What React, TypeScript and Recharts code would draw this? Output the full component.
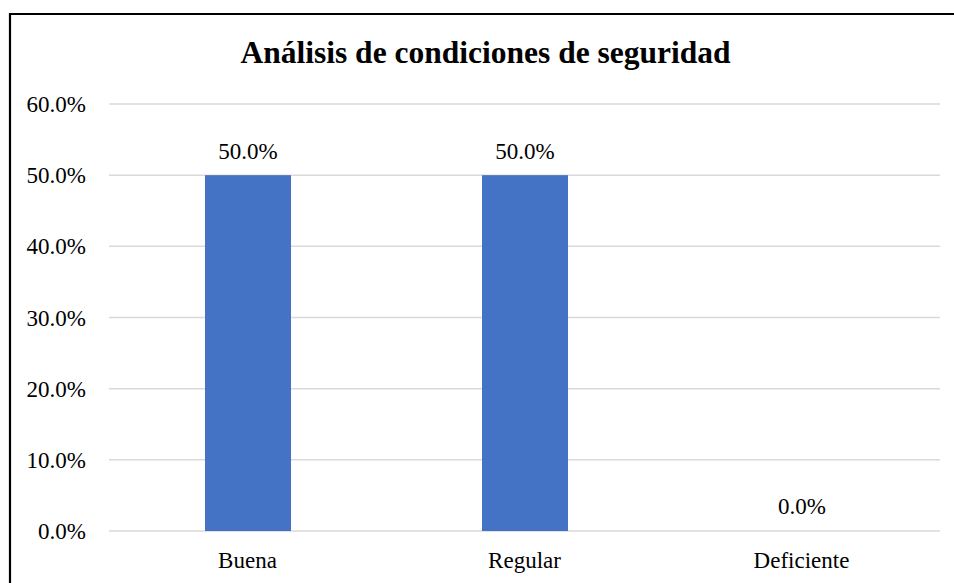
import { BarChart, Bar, XAxis, YAxis, CartesianGrid, LabelList } from 'recharts';

const categories = ['Buena', 'Regular', 'Deficiente'];
const shares = [0.5, 0.5, 0.0];
const yTicks = [0, 0.1, 0.2, 0.3, 0.4, 0.5, 0.6];

const data = categories.map((name, i) => ({ name, value: shares[i] }));

const font = '"Liberation Serif", "Times New Roman", serif';
const pct = (v: number) => `${(v * 100).toFixed(1)}%`;

// zero bars still need their label, so they get a tiny height but no paint
const BarShape = (props: any) => {
  const { x, y, width, height, value, fill } = props;
  if (!value) return null;
  return <rect x={x} y={y} width={width} height={height} fill={fill} />;
};

const App = () => {
  return (
    <div style={{ position: 'absolute', left: 0, top: 0, width: 954, height: 583, background: '#fff' }}>
      <svg width={954} height={583} style={{ position: 'absolute', left: 0, top: 0 }}>
        <path d="M10 583 V14 H954" fill="none" stroke="#000" strokeWidth={2.2} />
        <text x={485.5} y={63} textAnchor="middle" fontFamily={font} fontWeight="bold" fontSize={31.5} fill="#000">
          Análisis de condiciones de seguridad
        </text>
      </svg>
      <div style={{ position: 'absolute', left: 0, top: 0 }}>
        <BarChart width={954} height={583} data={data} margin={{ top: 104, right: 14, bottom: 0, left: 0 }}>
          <CartesianGrid vertical={false} stroke="#d9d9d9" strokeWidth={1.5} />
          <XAxis
            dataKey="name"
            height={52}
            axisLine={false}
            tickLine={false}
            tickSize={0}
            tickMargin={21}
            tick={{ fill: '#000', fontSize: 23, fontFamily: font }}
          />
          <YAxis
            width={109}
            domain={[0, 0.6]}
            ticks={yTicks}
            tickFormatter={pct}
            axisLine={false}
            tickLine={false}
            tickSize={0}
            tickMargin={23}
            tick={{ fill: '#000', fontSize: 23, fontFamily: font }}
          />
          <Bar dataKey="value" fill="#4472C4" barSize={86} minPointSize={1} shape={BarShape} isAnimationActive={false}>
            <LabelList
              dataKey="value"
              position="top"
              offset={16}
              formatter={(v: any) => pct(Number(v))}
              style={{ fill: '#000', fontSize: 23, fontFamily: font }}
            />
          </Bar>
        </BarChart>
      </div>
    </div>
  );
};

export default App;
